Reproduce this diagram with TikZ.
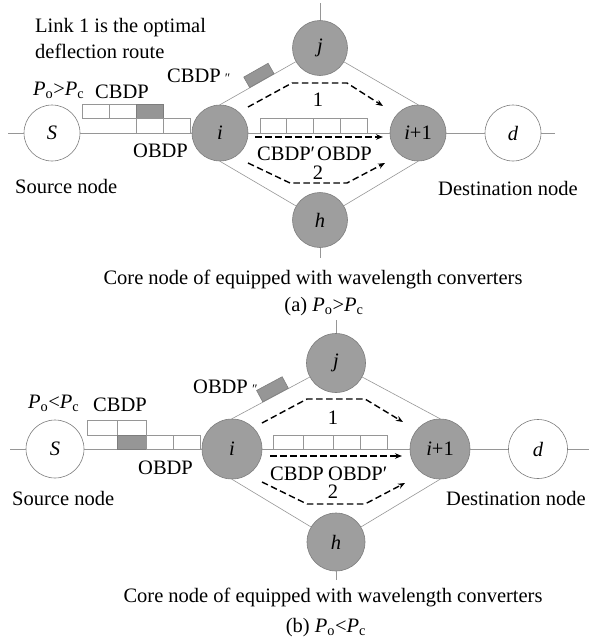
\documentclass[tikz,border=0pt]{standalone}
\usepackage{fontspec}
\setmainfont{Liberation Serif}
\usetikzlibrary{arrows.meta,calc}
\definecolor{corefill}{RGB}{158,158,158}
\definecolor{coreline}{RGB}{125,125,125}
\definecolor{linkgray}{RGB}{150,150,150}
\definecolor{pktgray}{RGB}{150,150,150}
\newcommand{\dprime}{{\fontsize{13}{13}\selectfont\textit{″}}}
\begin{document}
\begin{tikzpicture}[x=1pt,y=-1pt,
  every node/.style={font=\fontsize{20.5}{24}\selectfont},
  core/.style={circle,draw=coreline,fill=corefill,line width=0.6pt,inner sep=0pt,minimum size=#1},
  endnode/.style={circle,draw=coreline,fill=white,line width=0.6pt,inner sep=0pt,minimum size=#1},
  link/.style={draw=linkgray,line width=0.6pt},
  pkt/.style={draw=linkgray,line width=0.6pt,fill=white},
  pktg/.style={draw=coreline,line width=0.6pt,fill=pktgray},
  route/.style={draw=black,line width=1.4pt,dash pattern=on 6.5pt off 3.5pt,-{Stealth[length=7pt,width=5.5pt]}},
  txt/.style={inner sep=0pt,anchor=base west},
  captext/.style={inner sep=0pt,anchor=base},
]
\useasboundingbox (0,0) rectangle (589,640);

% ================= panel (a) =================
\node[endnode=56pt] (Sa) at (52,133) {\textit{S}};
\node[core=56pt] (ia) at (220,133) {\textit{i}};
\node[core=55pt] (ja) at (320,48) {\textit{j}};
\node[core=56pt] (i1a) at (418,133) {\textit{i}+1};
\node[endnode=56pt] (da) at (513,133) {\textit{d}};
\node[core=55pt] (ha) at (320,220) {\textit{h}};
\coordinate (La) at (8,133);
\coordinate (Ra) at (555,133);
\coordinate (Ta) at (320,3);
\coordinate (Ba) at (320,258);

\draw[link] (La) -- (Sa);
\draw[link] (Sa) -- (ia);
\draw[link] (ia) -- (i1a);
\draw[link] (i1a) -- (da);
\draw[link] (da) -- (Ra);
\draw[link] (Ta) -- (ja);
\draw[link] (ha) -- (Ba);
\draw[link] (ia.north) -- (ja);
\draw[link] (ja) -- (i1a.north);
\draw[link] (ia.south) -- (ha);
\draw[link] (ha) -- (i1a.south);

% packets on S-i link
\draw[pkt] (82,104) rectangle (109,118);
\draw[pkt] (109,104) rectangle (136,118);
\draw[pktg] (136,104) rectangle (163,118);
\draw[pkt] (136,118) rectangle (163,133);
\draw[pkt] (163,118) rectangle (190,133);
% packets on i-(i+1) link
\draw[pkt] (260,118) rectangle (286.75,133);
\draw[pkt] (286.75,118) rectangle (313.5,133);
\draw[pkt] (313.5,118) rectangle (340.25,133);
\draw[pkt] (340.25,118) rectangle (367,133);
% deflected packet
\path (ia.north) -- (ja.center) node[pos=0.42,sloped,anchor=south,pktg,minimum width=28pt,minimum height=12pt,inner sep=0pt] (gpa) {};

% routes
\draw[route] (248,107) -- (292,83) -- (347,83) -- (383,106);
\draw[route] (255,137) -- (383,137);
\draw[route] (248,163) -- (290,183) -- (347,183) -- (385,163);

% labels
\node[txt] (t1) at (35,32) {Link 1 is the optimal};
\node[txt] (t2) at (35,58) {deflection route};
\node[txt] (pa) at (33,95) {\textit{P}\textsubscript{o}>\textit{P}\textsubscript{c}};
\node[txt] (cba) at (95,98) {CBDP};
\node[txt] (cb2a) at (167,82) {CBDP\,\dprime};
\node[txt] (oba) at (133,157) {OBDP};
\node (n1a) at (318,100) {1};
\node (n2a) at (318,173) {2};
\node[txt] (cbpa) at (257,160) {CBDP′};
\node[txt] (obpa) at (317,160) {OBDP};
\node[txt] (srca) at (15,193) {Source node};
\node[txt] (dsta) at (438,195) {Destination node};
\node[captext] (capa) at (313,284) {Core node of equipped with wavelength converters};
\node[captext] (suba) at (324,311) {(a) \textit{P}\textsubscript{o}>\textit{P}\textsubscript{c}};

% ================= panel (b) =================
\node[endnode=58pt] (Sb) at (55,449) {\textit{S}};
\node[core=60pt] (ib) at (232,449) {\textit{i}};
\node[core=59pt] (jb) at (336,363) {\textit{j}};
\node[core=60pt] (i1b) at (440,449) {\textit{i}+1};
\node[endnode=59pt] (db) at (538,449) {\textit{d}};
\node[core=58pt] (hb) at (336,542) {\textit{h}};
\coordinate (Lb) at (10,449);
\coordinate (Rb) at (589,449);
\coordinate (Tb) at (336,320);
\coordinate (Bb) at (336,580);

\draw[link] (Lb) -- (Sb);
\draw[link] (Sb) -- (ib);
\draw[link] (ib) -- (i1b);
\draw[link] (i1b) -- (db);
\draw[link] (db) -- (Rb);
\draw[link] (Tb) -- (jb);
\draw[link] (hb) -- (Bb);
\draw[link] (ib.north) -- (jb);
\draw[link] (jb) -- (i1b.north);
\draw[link] (ib.south) -- (hb);
\draw[link] (hb) -- (i1b.south);

% packets on S-i link
\draw[pkt] (87,420) rectangle (117,435);
\draw[pkt] (117,420) rectangle (146,435);
\draw[pktg] (117,435) rectangle (146,449);
\draw[pkt] (146,435) rectangle (173,449);
\draw[pkt] (173,435) rectangle (200,449);
% packets on i-(i+1) link
\draw[pkt] (273,435) rectangle (303,449);
\draw[pkt] (303,435) rectangle (333,449);
\draw[pkt] (333,435) rectangle (360,449);
\draw[pkt] (360,435) rectangle (387,449);
% deflected packet
\path (ib.north) -- (jb.center) node[pos=0.42,sloped,anchor=south,pktg,minimum width=29pt,minimum height=13pt,inner sep=0pt] (gpb) {};

% routes
\draw[route] (262,423) -- (307,399) -- (365,399) -- (403,422);
\draw[route] (270,456) -- (402,456);
\draw[route] (262,482) -- (307,504) -- (365,504) -- (405,483);

% labels
\node[txt] (ob2b) at (193,393) {OBDP\,\dprime};
\node[txt] (pb) at (28,408) {\textit{P}\textsubscript{o}<\textit{P}\textsubscript{c}};
\node[txt] (cbb) at (93,411) {CBDP};
\node[txt] (obb) at (138,474) {OBDP};
\node (n1b) at (333,418) {1};
\node (n2b) at (333,492) {2};
\node[txt] (cbpb) at (270,480) {CBDP};
\node[txt] (obpb) at (328,480) {OBDP′};
\node[txt] (srcb) at (12,505) {Source node};
\node[txt] (dstb) at (446,505) {Destination node};
\node[captext] (capb) at (333,602) {Core node of equipped with wavelength converters};
\node[captext] (subb) at (326,632) {(b) \textit{P}\textsubscript{o}<\textit{P}\textsubscript{c}};
\end{tikzpicture}
\end{document}
